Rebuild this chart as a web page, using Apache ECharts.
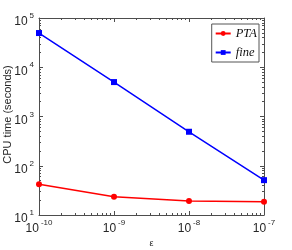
<!DOCTYPE html>
<html><head><meta charset="utf-8">
<script src="https://cdn.jsdelivr.net/npm/echarts@6/dist/echarts.min.js"></script>
<style>html,body{margin:0;padding:0;background:#fff}#c{width:292px;height:250px}</style>
</head><body><div id="c"></div>
<script>
const eps = [1e-10, 1e-9, 1e-8, 1e-7];
const ptaTimes = [42, 23.5, 19.3, 18.5];
const fineTimes = [49500, 5000, 490, 51];
const xTickExp = [-10, -9, -8, -7];
const yTickExp = [1, 2, 3, 4, 5];
const seriesNames = ['PTA', 'fine'];

const xMajor = xTickExp.map(e => Math.pow(10, e));
const yMajor = yTickExp.map(e => Math.pow(10, e));
function minorVals(exps) {
  const out = [];
  for (let i = 0; i < exps.length - 1; i++) {
    for (let k = 2; k <= 9; k++) out.push(k * Math.pow(10, exps[i]));
  }
  return out;
}
const xMinor = minorVals(xTickExp);
const yMinor = minorVals(yTickExp);

const axisColor = '#4d4d4d';
const labelColor = '#262626';
const rich = {
  b: {fontSize: 12, fontFamily: 'Liberation Sans', color: labelColor, verticalAlign: 'bottom', lineHeight: 16},
  s: {fontSize: 8, fontFamily: 'Liberation Sans', color: labelColor, verticalAlign: 'top', lineHeight: 8, padding: [0,0,0,2]}
};
function fmt(v) {
  const e = Math.round(Math.log10(v));
  return '{b|10}{s|' + e + '}';
}

function makeAxis(kind, pos, minor, showLabel, extra) {
  const isX = kind === 'x';
  const vals = isX ? (minor ? xMinor : xMajor) : (minor ? yMinor : yMajor);
  const a = {
    type: 'log', logBase: 10,
    position: pos,
    min: isX ? xMajor[0] : yMajor[0],
    max: isX ? xMajor[xMajor.length - 1] : yMajor[yMajor.length - 1],
    nameMoveOverlap: false,
    axisLine: {show: !minor, onZero: false, lineStyle: {color: axisColor, width: 1}},
    axisTick: {show: true, inside: true, length: minor ? 2 : 4, customValues: vals, lineStyle: {color: axisColor, width: 1}},
    axisLabel: Object.assign({show: showLabel, customValues: vals, formatter: fmt, rich: rich, hideOverlap: false},
      isX ? {margin: 4} : {margin: 5, padding: [4, 0, 0, 0]}),
    splitLine: {show: false},
    minorTick: {show: false}
  };
  return Object.assign(a, extra || {});
}

const xAxes = [
  makeAxis('x', 'bottom', false, true, {name: 'ε', nameLocation: 'middle', nameGap: 24,
    nameTextStyle: {fontSize: 9, fontFamily: 'Liberation Sans', color: labelColor}}),
  makeAxis('x', 'bottom', true, false),
  makeAxis('x', 'top', false, false),
  makeAxis('x', 'top', true, false)
];
const yAxes = [
  makeAxis('y', 'left', false, true, {name: 'CPU time (seconds)', nameLocation: 'middle', nameGap: 26, nameRotate: 90,
    nameTextStyle: {fontSize: 11, fontFamily: 'Liberation Sans', color: labelColor, padding: [0, 0, 0, 4]}}),
  makeAxis('y', 'left', true, false),
  makeAxis('y', 'right', false, false),
  makeAxis('y', 'right', true, false)
];

const chart = echarts.init(document.getElementById('c'), null, {renderer: 'canvas'});
chart.setOption({
  animation: false,
  backgroundColor: '#fff',
  grid: {left: 39, right: 28, top: 18, bottom: 35, containLabel: false, outerBoundsMode: 'none'},
  xAxis: xAxes,
  yAxis: yAxes,
  legend: {
    right: 33, top: 24, orient: 'vertical',
    backgroundColor: '#fff', borderColor: '#555', borderWidth: 1, borderRadius: 0,
    padding: [3, 2, 3, 3],
    itemWidth: 15, itemHeight: 6, itemGap: 6,
    textStyle: {fontFamily: 'Liberation Serif', fontStyle: 'italic', fontSize: 12.5, color: '#111', padding: [0,0,0,0]},
    data: seriesNames
  },
  series: [
    {name: seriesNames[0], type: 'line', xAxisIndex: 0, yAxisIndex: 0,
     data: eps.map((x, i) => [x, ptaTimes[i]]),
     symbol: 'circle', symbolSize: 6, color: '#ff0000',
     lineStyle: {width: 1.5, color: '#ff0000'}, itemStyle: {color: '#ff0000'}},
    {name: seriesNames[1], type: 'line', xAxisIndex: 0, yAxisIndex: 0,
     data: eps.map((x, i) => [x, fineTimes[i]]),
     symbol: 'rect', symbolSize: 6, color: '#0000ff',
     lineStyle: {width: 1.5, color: '#0000ff'}, itemStyle: {color: '#0000ff'}}
  ]
});
</script></body></html>
